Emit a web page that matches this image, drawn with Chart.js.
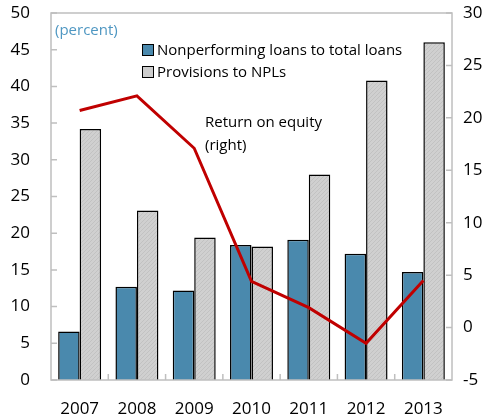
<!DOCTYPE html>
<html lang="en">
<head>
    <meta charset="UTF-8">
    <title>NPLs, provisions and return on equity</title>
    <script src="https://cdn.jsdelivr.net/npm/chart.js@4.4.0/dist/chart.umd.min.js"></script>
    <style>
        body{
            margin: 0;
            background: #ffffff;
            font-family: "Open Sans", sans-serif;
        }
        .wrap{
            position: relative;
            width: 496px;
            height: 419px;
        }
        .note{
            position: absolute;
            font-size: 15px;
            line-height: 23px;
            color: #000;
            white-space: nowrap;
        }
        .key{
            display: inline-block;
            width: 10px;
            height: 10px;
            border: 1px solid #000;
            margin-right: 3px;
            vertical-align: -1px;
        }
    </style>
</head>
<body>
<div class="wrap">
    <canvas id="npl" width="496" height="419"></canvas>
    <div class="note" style="left:55px; top:18px; color:#4f97c2;">(percent)</div>
    <div class="note" style="left:142px; top:38px;"><span class="key" style="background:#4a89ad;"></span>Nonperforming loans to total loans</div>
    <div class="note" style="left:142px; top:60px;"><span class="key" style="background:#cdcdcd;"></span>Provisions to NPLs</div>
    <div class="note" style="left:205px; top:110px;">Return on equity<br>(right)</div>
</div>
<script>
    var years = ['2007', '2008', '2009', '2010', '2011', '2012', '2013'];
    var nplRatio = [6.6, 12.7, 12.2, 18.4, 19.1, 17.2, 14.7];
    var provisions = [34.2, 23.1, 19.4, 18.2, 28.0, 40.8, 46.0];
    var roe = [20.7, 22.1, 17.1, 4.4, 1.9, -1.5, 4.5];

    // fine hatch for the grey bars
    function hatch() {
        var c = document.createElement('canvas');
        c.width = 4;
        c.height = 4;
        var g = c.getContext('2d');
        g.fillStyle = '#d0d0d0';
        g.fillRect(0, 0, 4, 4);
        g.fillStyle = '#c2c2c2';
        g.fillRect(0, 3, 1, 1);
        g.fillRect(1, 2, 1, 1);
        g.fillRect(2, 1, 1, 1);
        g.fillRect(3, 0, 1, 1);
        return g.createPattern(c, 'repeat');
    }

    var boxAndTicks = {
        id: 'boxAndTicks',
        afterDatasetsDraw: function(chart) {
            var ctx = chart.ctx;
            var a = chart.chartArea;
            ctx.save();
            ctx.strokeStyle = '#bfbfbf';
            ctx.lineWidth = 1.5;
            ctx.strokeRect(a.left, a.top, a.right - a.left, a.bottom - a.top);
            ctx.beginPath();
            var yl = chart.scales.y;
            yl.ticks.forEach(function(t) {
                var p = yl.getPixelForValue(t.value);
                ctx.moveTo(a.left, p);
                ctx.lineTo(a.left + 6, p);
            });
            var yr = chart.scales.y2;
            yr.ticks.forEach(function(t) {
                var p = yr.getPixelForValue(t.value);
                ctx.moveTo(a.right, p);
                ctx.lineTo(a.right - 6, p);
            });
            var xs = chart.scales.x;
            for (var i = 1; i < years.length; i++) {
                var p = (xs.getPixelForValue(i - 1) + xs.getPixelForValue(i)) / 2;
                ctx.moveTo(p, a.bottom);
                ctx.lineTo(p, a.bottom - 6);
            }
            ctx.stroke();
            ctx.restore();
        }
    };

    // fixed axis sizes so the plot box lands where the original has it
    function fixVertical(w) {
        return function(s) {
            s.width = w;
            s.paddingTop = 13;
            s.paddingBottom = 0;
        };
    }

    var ctx = document.getElementById('npl').getContext('2d');
    var chart = new Chart(ctx, {
        data: {
            labels: years,
            datasets: [{
                type: 'line',
                label: 'Return on equity (right)',
                data: roe,
                yAxisID: 'y2',
                borderColor: '#c00000',
                borderWidth: 3,
                pointRadius: 0,
                tension: 0,
                order: 0
            }, {
                type: 'bar',
                label: 'Nonperforming loans to total loans',
                data: nplRatio,
                yAxisID: 'y',
                backgroundColor: '#4a89ad',
                borderColor: '#000',
                borderWidth: 1.5,
                categoryPercentage: 0.75,
                barPercentage: 1,
                order: 1
            }, {
                type: 'bar',
                label: 'Provisions to NPLs',
                data: provisions,
                yAxisID: 'y',
                backgroundColor: hatch(),
                borderColor: '#000',
                borderWidth: 1.5,
                categoryPercentage: 0.75,
                barPercentage: 1,
                order: 1
            }]
        },
        options: {
            responsive: false,
            animation: false,
            layout: { padding: 0 },
            plugins: {
                legend: { display: false },
                tooltip: { enabled: false }
            },
            scales: {
                x: {
                    grid: { display: false, drawTicks: false },
                    border: { display: false },
                    ticks: { color: '#000', font: { family: 'Open Sans', size: 17 }, padding: 19 },
                    afterFit: function(s) { s.height = 39; s.paddingLeft = 0; s.paddingRight = 0; }
                },
                y: {
                    position: 'left',
                    min: 0,
                    max: 50,
                    grid: { display: false, drawTicks: false },
                    border: { display: false },
                    ticks: { stepSize: 5, color: '#000', font: { family: 'Open Sans', size: 17 }, padding: 21 },
                    afterFit: fixVertical(51)
                },
                y2: {
                    position: 'right',
                    min: -5,
                    max: 30,
                    grid: { display: false, drawTicks: false },
                    border: { display: false },
                    ticks: { stepSize: 5, color: '#000', font: { family: 'Open Sans', size: 17 }, padding: 11 },
                    afterFit: fixVertical(44)
                }
            }
        },
        plugins: [boxAndTicks]
    });
</script>
</body>
</html>
